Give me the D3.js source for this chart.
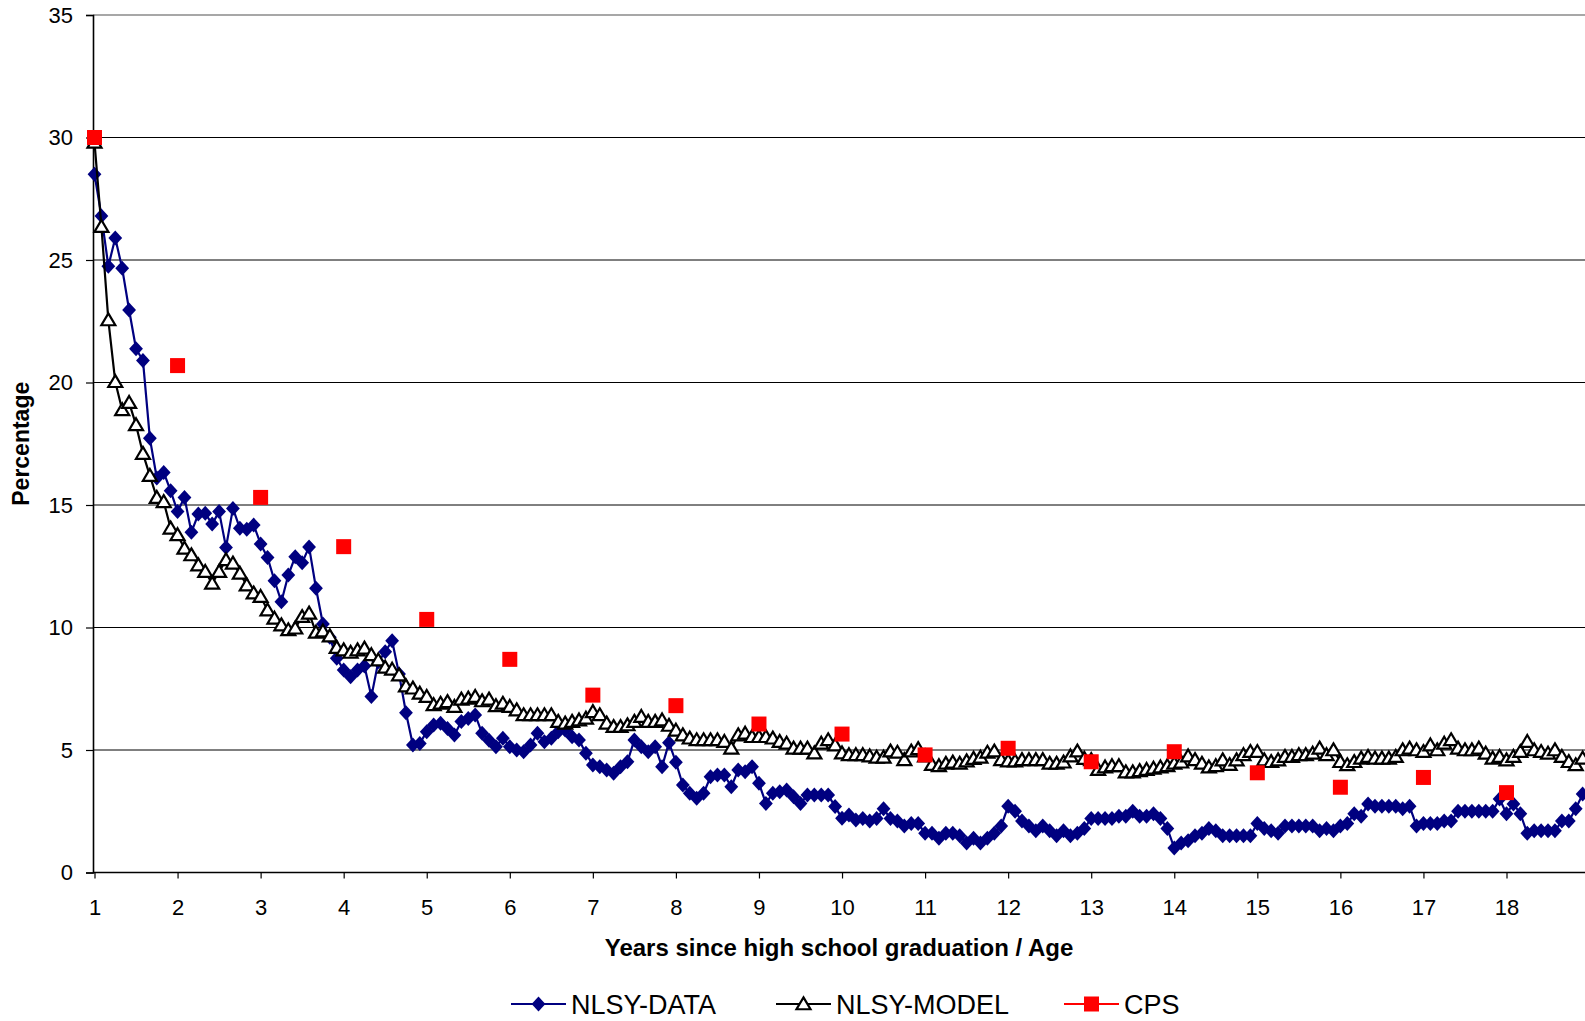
<!DOCTYPE html>
<html>
<head>
<meta charset="utf-8">
<script src="https://cdn.jsdelivr.net/npm/d3@7"></script>
<style>
  body { margin: 0; background: #fff; }
  svg { display: block; }
  text { font-family: "Liberation Sans", Arial, Helvetica, sans-serif; fill: #000; }
</style>
</head>
<body>
<svg id="chart" width="1585" height="1021"></svg>
<script>
// Monthly series, starting one year after graduation (12 observations per year)
const firstYear = 1;
const stepsPerYear = 12;

const nlsyData = [
  28.5, 26.8, 24.75, 25.9, 24.66, 22.96, 21.38, 20.9, 17.72, 16.1,
  16.33, 15.58, 14.73, 15.31, 13.89, 14.63, 14.66, 14.22, 14.73, 13.27,
  14.86, 14.05, 14.01, 14.18, 13.41, 12.86, 11.91, 11.05, 12.14, 12.89,
  12.64, 13.29, 11.6, 10.14, 9.6, 8.74, 8.27, 7.99, 8.27, 8.43,
  7.18, 8.6, 9.01, 9.46, 8.1, 6.52, 5.2, 5.27, 5.75, 6.02,
  6.09, 5.88, 5.61, 6.16, 6.29, 6.43, 5.68, 5.4, 5.13, 5.48,
  5.13, 5.0, 4.93, 5.2, 5.68, 5.34, 5.48, 5.75, 5.82, 5.54,
  5.41, 4.87, 4.39, 4.32, 4.18, 4.05, 4.32, 4.52, 5.41, 5.13,
  4.93, 5.13, 4.32, 5.3, 4.5, 3.57, 3.23, 3.03, 3.23, 3.91,
  3.98, 3.98, 3.5, 4.18, 4.11, 4.32, 3.64, 2.82, 3.23, 3.3,
  3.37, 3.09, 2.82, 3.16, 3.16, 3.16, 3.16, 2.69, 2.21, 2.35,
  2.14, 2.2, 2.1, 2.2, 2.6, 2.2, 2.1, 1.9, 2.0, 2.0,
  1.6, 1.6, 1.4, 1.6, 1.6, 1.5, 1.2, 1.4, 1.2, 1.4,
  1.6, 1.9, 2.7, 2.5, 2.1, 1.9, 1.7, 1.9, 1.7, 1.5,
  1.7, 1.5, 1.6, 1.8, 2.2, 2.2, 2.2, 2.2, 2.3, 2.3,
  2.5, 2.3, 2.3, 2.4, 2.2, 1.8, 1.0, 1.2, 1.3, 1.5,
  1.6, 1.8, 1.7, 1.5, 1.5, 1.5, 1.5, 1.5, 2.0, 1.8,
  1.7, 1.6, 1.9, 1.9, 1.9, 1.9, 1.9, 1.7, 1.8, 1.7,
  1.9, 2.0, 2.4, 2.3, 2.8, 2.7, 2.7, 2.7, 2.7, 2.6,
  2.7, 1.9, 2.0, 2.0, 2.0, 2.1, 2.1, 2.5, 2.5, 2.5,
  2.5, 2.5, 2.5, 3.0, 2.4, 2.8, 2.4, 1.6, 1.7, 1.7,
  1.7, 1.7, 2.1, 2.1, 2.6, 3.2
];

const nlsyModel = [
  29.8, 26.36, 22.55, 20.03, 18.88, 19.18, 18.27, 17.1, 16.2, 15.3,
  15.13, 14.05, 13.78, 13.23, 12.96, 12.55, 12.28, 11.8, 12.28, 12.76,
  12.62, 12.21, 11.73, 11.4, 11.26, 10.71, 10.37, 10.1, 9.9, 9.97,
  10.44, 10.58, 9.8, 9.85, 9.65, 9.18, 9.08, 8.98, 9.08, 9.15,
  8.88, 8.67, 8.37, 8.29, 8.06, 7.61, 7.52, 7.31, 7.18, 6.84,
  6.9, 6.97, 6.77, 7.07, 7.11, 7.18, 7.0, 7.07, 6.8, 6.9,
  6.77, 6.63, 6.43, 6.43, 6.43, 6.43, 6.43, 6.16, 6.09, 6.16,
  6.22, 6.29, 6.56, 6.43, 6.09, 5.95, 5.95, 6.02, 6.16, 6.36,
  6.16, 6.16, 6.22, 6.0, 5.8, 5.61, 5.48, 5.41, 5.41, 5.41,
  5.41, 5.34, 5.07, 5.61, 5.68, 5.54, 5.54, 5.54, 5.48, 5.34,
  5.27, 5.07, 5.07, 5.07, 4.87, 5.27, 5.41, 5.2, 4.87, 4.8,
  4.8, 4.8, 4.75, 4.7, 4.7, 4.95, 4.9, 4.6, 4.95, 5.05,
  4.75, 4.4, 4.35, 4.45, 4.5, 4.45, 4.55, 4.65, 4.7, 4.9,
  4.95, 4.6, 4.55, 4.55, 4.6, 4.6, 4.6, 4.6, 4.45, 4.45,
  4.5, 4.75, 4.95, 4.65, 4.6, 4.2, 4.3, 4.35, 4.35, 4.1,
  4.1, 4.15, 4.2, 4.25, 4.3, 4.35, 4.45, 4.5, 4.75, 4.6,
  4.45, 4.3, 4.35, 4.59, 4.4, 4.59, 4.8, 4.93, 4.93, 4.59,
  4.52, 4.59, 4.73, 4.73, 4.8, 4.8, 4.86, 5.07, 4.8, 5.0,
  4.52, 4.39, 4.52, 4.66, 4.73, 4.66, 4.66, 4.66, 4.73, 5.0,
  5.07, 5.0, 4.93, 5.2, 5.0, 5.27, 5.41, 5.07, 5.0, 5.0,
  5.07, 4.86, 4.66, 4.73, 4.59, 4.73, 4.93, 5.34, 5.0, 4.93,
  4.86, 5.0, 4.73, 4.52, 4.39, 4.66
];

// CPS comparison, one value per whole year
const cpsYears = [1, 2, 3, 4, 5, 6, 7, 8, 9, 10, 11, 12, 13, 14, 15, 16, 17, 18];
const cpsValues = [30.0, 20.69, 15.31, 13.3, 10.33, 8.7, 7.24, 6.81, 6.06, 5.65,
                   4.8, 5.07, 4.52, 4.93, 4.07, 3.48, 3.88, 3.26];

const xTickValues = [1, 2, 3, 4, 5, 6, 7, 8, 9, 10, 11, 12, 13, 14, 15, 16, 17, 18];
const yTickValues = [0, 5, 10, 15, 20, 25, 30, 35];

const seriesNames = ["NLSY-DATA", "NLSY-MODEL", "CPS"];
const xTitle = "Years since high school graduation / Age";
const yTitle = "Percentage";

const colors = { data: "#000080", model: "#000000", cps: "#ff0000" };

const W = 1585, H = 1021;
const plot = { left: 93, top: 15, right: W, bottom: 872.5 };

const svg = d3.select("#chart");
svg.append("rect").attr("width", W).attr("height", H).attr("fill", "#fff");

const x = d3.scaleLinear().domain([1, 18]).range([94.5, 1506.5]);
const y = d3.scaleLinear().domain([0, 35]).range([plot.bottom, plot.top]);

const toPoints = arr => arr.map((v, i) => ({ t: firstYear + i / stepsPerYear, v }));
const dataPts = toPoints(nlsyData);
const modelPts = toPoints(nlsyModel);
const cpsPts = cpsYears.map((t, i) => ({ t, v: cpsValues[i] }));

// horizontal gridlines
svg.append("g").selectAll("line")
  .data(yTickValues.filter(d => d > 0))
  .join("line")
  .attr("x1", plot.left).attr("x2", plot.right)
  .attr("y1", d => y(d)).attr("y2", d => y(d))
  .attr("stroke", d => d === 35 ? "#8a8a8a" : "#000")
  .attr("stroke-width", d => d === 35 ? 1.6 : 1);

// y axis
const yAxis = d3.axisLeft(y).tickValues(yTickValues).tickSize(7).tickPadding(13)
  .tickFormat(d3.format("d"));
const gy = svg.append("g").attr("transform", `translate(${plot.left},0)`).call(yAxis);
gy.select(".domain").attr("stroke", "#000").attr("stroke-width", 1.6);
gy.selectAll(".tick line").attr("stroke", "#000").attr("stroke-width", 1.2);
gy.selectAll(".tick text").attr("font-size", 22)
  .attr("font-family", '"Liberation Sans", Arial, sans-serif').attr("fill", "#000");

// x axis
const xAxis = d3.axisBottom(x).tickValues(xTickValues).tickSize(6).tickPadding(21)
  .tickFormat(d3.format("d"));
const gx = svg.append("g").attr("transform", `translate(0,${plot.bottom})`).call(xAxis);
gx.select(".domain").remove();
gx.append("line").attr("x1", plot.left).attr("x2", plot.right)
  .attr("stroke", "#000").attr("stroke-width", 1.6);
gx.selectAll(".tick line").attr("stroke", "#000").attr("stroke-width", 1.2);
gx.selectAll(".tick text").attr("font-size", 22)
  .attr("font-family", '"Liberation Sans", Arial, sans-serif').attr("fill", "#000");

// axis titles
svg.append("text")
  .attr("x", (plot.left + plot.right) / 2).attr("y", 956)
  .attr("text-anchor", "middle").attr("font-size", 24).attr("font-weight", "bold")
  .text(xTitle);
svg.append("text")
  .attr("transform", `translate(29,${(plot.top + plot.bottom) / 2}) rotate(-90)`)
  .attr("text-anchor", "middle").attr("font-size", 23).attr("font-weight", "bold")
  .text(yTitle);

const line = d3.line().x(d => x(d.t)).y(d => y(d.v));

const diamond = s => `M0,${-s}L${s * 0.92},0L0,${s}L${-s * 0.92},0Z`;
const triangle = s => `M0,${-s * 0.95}L${s},${s * 0.75}L${-s},${s * 0.75}Z`;

const series = svg.append("g");

// NLSY data: navy line with filled diamonds
series.append("path").datum(dataPts)
  .attr("d", line).attr("fill", "none")
  .attr("stroke", colors.data).attr("stroke-width", 2.2).attr("stroke-linejoin", "round");
series.append("g").selectAll("path").data(dataPts).join("path")
  .attr("transform", d => `translate(${x(d.t)},${y(d.v)})`)
  .attr("d", diamond(7.5)).attr("fill", colors.data);

// NLSY model: black line with hollow triangles
series.append("path").datum(modelPts)
  .attr("d", line).attr("fill", "none")
  .attr("stroke", colors.model).attr("stroke-width", 2.2).attr("stroke-linejoin", "round");
series.append("g").selectAll("path").data(modelPts).join("path")
  .attr("transform", d => `translate(${x(d.t)},${y(d.v)})`)
  .attr("d", triangle(7)).attr("fill", "#fff")
  .attr("stroke", colors.model).attr("stroke-width", 2.2).attr("stroke-linejoin", "miter");

// CPS: red squares only
series.append("g").selectAll("rect").data(cpsPts).join("rect")
  .attr("x", d => x(d.t) - 7.5).attr("y", d => y(d.v) - 7.5)
  .attr("width", 15).attr("height", 15).attr("fill", colors.cps);

// legend
const legendY = 1004;
const legendItems = [
  { name: seriesNames[0], x0: 511, color: colors.data, marker: "diamond" },
  { name: seriesNames[1], x0: 776, color: colors.model, marker: "triangle" },
  { name: seriesNames[2], x0: 1064, color: colors.cps, marker: "square" }
];
const lg = svg.append("g");
legendItems.forEach(it => {
  const g = lg.append("g");
  g.append("line").attr("x1", it.x0).attr("x2", it.x0 + 55)
    .attr("y1", legendY).attr("y2", legendY)
    .attr("stroke", it.color).attr("stroke-width", 2.2);
  const cx = it.x0 + 27.5;
  if (it.marker === "diamond") {
    g.append("path").attr("transform", `translate(${cx},${legendY})`)
      .attr("d", diamond(7.5)).attr("fill", it.color);
  } else if (it.marker === "triangle") {
    g.append("path").attr("transform", `translate(${cx},${legendY})`)
      .attr("d", triangle(7)).attr("fill", "#fff")
      .attr("stroke", it.color).attr("stroke-width", 2.2);
  } else {
    g.append("rect").attr("x", cx - 7.5).attr("y", legendY - 7.5)
      .attr("width", 15).attr("height", 15).attr("fill", it.color);
  }
  g.append("text").attr("x", it.x0 + 60).attr("y", legendY + 10)
    .attr("font-size", 27).text(it.name);
});
</script>
</body>
</html>
